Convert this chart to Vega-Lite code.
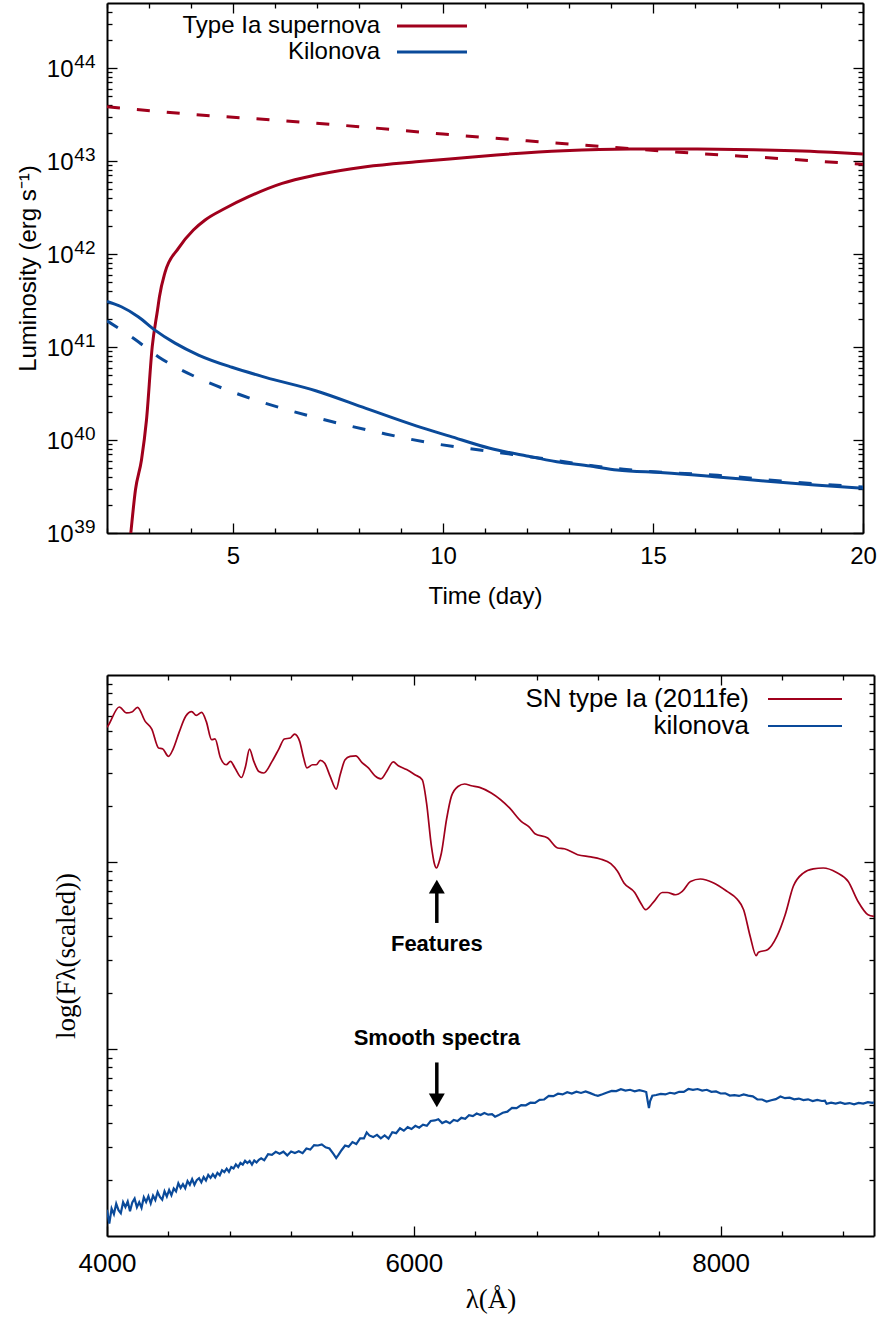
{
  "$schema": "https://vega.github.io/schema/vega-lite/v6.json",
  "background": "white",
  "padding": {"left": 16, "top": 1, "right": 5, "bottom": 5},
  "spacing": 142,
  "bounds": "flush",
  "resolve": {"scale": {"color": "independent", "strokeWidth": "independent", "shape": "independent"}, "legend": {"color": "independent"}},
  "datasets": {
    "lightcurves": [
      {"object": "Type Ia supernova", "curve": "light curve", "t": 2.5, "L": 5e38},
      {"object": "Type Ia supernova", "curve": "light curve", "t": 2.567, "L": 1.0e39},
      {"object": "Type Ia supernova", "curve": "light curve", "t": 2.677, "L": 2.9e39},
      {"object": "Type Ia supernova", "curve": "light curve", "t": 2.821, "L": 6.1e39},
      {"object": "Type Ia supernova", "curve": "light curve", "t": 2.94, "L": 1.64e40},
      {"object": "Type Ia supernova", "curve": "light curve", "t": 3.077, "L": 1.01e41},
      {"object": "Type Ia supernova", "curve": "light curve", "t": 3.203, "L": 2.5e41},
      {"object": "Type Ia supernova", "curve": "light curve", "t": 3.25, "L": 3.5e41},
      {"object": "Type Ia supernova", "curve": "light curve", "t": 3.38, "L": 6.3e41},
      {"object": "Type Ia supernova", "curve": "light curve", "t": 3.699, "L": 1.15e42},
      {"object": "Type Ia supernova", "curve": "light curve", "t": 4.057, "L": 1.81e42},
      {"object": "Type Ia supernova", "curve": "light curve", "t": 4.337, "L": 2.32e42},
      {"object": "Type Ia supernova", "curve": "light curve", "t": 4.816, "L": 3.1e42},
      {"object": "Type Ia supernova", "curve": "light curve", "t": 5.373, "L": 4.13e42},
      {"object": "Type Ia supernova", "curve": "light curve", "t": 6.17, "L": 5.75e42},
      {"object": "Type Ia supernova", "curve": "light curve", "t": 6.969, "L": 7.06e42},
      {"object": "Type Ia supernova", "curve": "light curve", "t": 8.165, "L": 8.69e42},
      {"object": "Type Ia supernova", "curve": "light curve", "t": 9.361, "L": 9.82e42},
      {"object": "Type Ia supernova", "curve": "light curve", "t": 10.158, "L": 1.052e43},
      {"object": "Type Ia supernova", "curve": "light curve", "t": 11.275, "L": 1.161e43},
      {"object": "Type Ia supernova", "curve": "light curve", "t": 12.87, "L": 1.291e43},
      {"object": "Type Ia supernova", "curve": "light curve", "t": 14.464, "L": 1.346e43},
      {"object": "Type Ia supernova", "curve": "light curve", "t": 16.06, "L": 1.346e43},
      {"object": "Type Ia supernova", "curve": "light curve", "t": 17.65, "L": 1.312e43},
      {"object": "Type Ia supernova", "curve": "light curve", "t": 19.25, "L": 1.242e43},
      {"object": "Type Ia supernova", "curve": "light curve", "t": 20, "L": 1.19e43},
      {"object": "Type Ia supernova", "curve": "heating rate", "t": 2, "L": 3.84e43},
      {"object": "Type Ia supernova", "curve": "heating rate", "t": 4, "L": 3.18e43},
      {"object": "Type Ia supernova", "curve": "heating rate", "t": 6, "L": 2.75e43},
      {"object": "Type Ia supernova", "curve": "heating rate", "t": 8, "L": 2.34e43},
      {"object": "Type Ia supernova", "curve": "heating rate", "t": 10, "L": 1.95e43},
      {"object": "Type Ia supernova", "curve": "heating rate", "t": 12, "L": 1.65e43},
      {"object": "Type Ia supernova", "curve": "heating rate", "t": 14, "L": 1.41e43},
      {"object": "Type Ia supernova", "curve": "heating rate", "t": 16, "L": 1.21e43},
      {"object": "Type Ia supernova", "curve": "heating rate", "t": 18, "L": 1.064e43},
      {"object": "Type Ia supernova", "curve": "heating rate", "t": 20, "L": 9.2e42},
      {"object": "Kilonova", "curve": "light curve", "t": 2, "L": 3.09e41},
      {"object": "Kilonova", "curve": "light curve", "t": 2.342, "L": 2.71e41},
      {"object": "Kilonova", "curve": "light curve", "t": 2.742, "L": 2.12e41},
      {"object": "Kilonova", "curve": "light curve", "t": 3.141, "L": 1.52e41},
      {"object": "Kilonova", "curve": "light curve", "t": 3.62, "L": 1.1e41},
      {"object": "Kilonova", "curve": "light curve", "t": 4.177, "L": 8.2e40},
      {"object": "Kilonova", "curve": "light curve", "t": 4.974, "L": 6.05e40},
      {"object": "Kilonova", "curve": "light curve", "t": 5.773, "L": 4.72e40},
      {"object": "Kilonova", "curve": "light curve", "t": 6.969, "L": 3.39e40},
      {"object": "Kilonova", "curve": "light curve", "t": 8.165, "L": 2.19e40},
      {"object": "Kilonova", "curve": "light curve", "t": 9.361, "L": 1.42e40},
      {"object": "Kilonova", "curve": "light curve", "t": 10.158, "L": 1.1e40},
      {"object": "Kilonova", "curve": "light curve", "t": 11.115, "L": 8.15e39},
      {"object": "Kilonova", "curve": "light curve", "t": 11.993, "L": 6.73e39},
      {"object": "Kilonova", "curve": "light curve", "t": 12.71, "L": 5.85e39},
      {"object": "Kilonova", "curve": "light curve", "t": 13.507, "L": 5.25e39},
      {"object": "Kilonova", "curve": "light curve", "t": 14.146, "L": 4.75e39},
      {"object": "Kilonova", "curve": "light curve", "t": 15.26, "L": 4.45e39},
      {"object": "Kilonova", "curve": "light curve", "t": 16.457, "L": 4.03e39},
      {"object": "Kilonova", "curve": "light curve", "t": 17.65, "L": 3.62e39},
      {"object": "Kilonova", "curve": "light curve", "t": 18.85, "L": 3.28e39},
      {"object": "Kilonova", "curve": "light curve", "t": 20, "L": 3.03e39},
      {"object": "Kilonova", "curve": "heating rate", "t": 2, "L": 1.91e41},
      {"object": "Kilonova", "curve": "heating rate", "t": 2.663, "L": 1.21e41},
      {"object": "Kilonova", "curve": "heating rate", "t": 3.22, "L": 7.87e40},
      {"object": "Kilonova", "curve": "heating rate", "t": 4.098, "L": 4.8e40},
      {"object": "Kilonova", "curve": "heating rate", "t": 4.974, "L": 3.3e40},
      {"object": "Kilonova", "curve": "heating rate", "t": 6.17, "L": 2.19e40},
      {"object": "Kilonova", "curve": "heating rate", "t": 7.366, "L": 1.57e40},
      {"object": "Kilonova", "curve": "heating rate", "t": 8.562, "L": 1.18e40},
      {"object": "Kilonova", "curve": "heating rate", "t": 9.758, "L": 9.2e39},
      {"object": "Kilonova", "curve": "heating rate", "t": 10.557, "L": 8.15e39},
      {"object": "Kilonova", "curve": "heating rate", "t": 11.354, "L": 7.29e39},
      {"object": "Kilonova", "curve": "heating rate", "t": 12.07, "L": 6.61e39},
      {"object": "Kilonova", "curve": "heating rate", "t": 13.507, "L": 5.33e39},
      {"object": "Kilonova", "curve": "heating rate", "t": 14.3, "L": 4.84e39},
      {"object": "Kilonova", "curve": "heating rate", "t": 15, "L": 4.56e39},
      {"object": "Kilonova", "curve": "heating rate", "t": 16.54, "L": 4.17e39},
      {"object": "Kilonova", "curve": "heating rate", "t": 18.05, "L": 3.62e39},
      {"object": "Kilonova", "curve": "heating rate", "t": 19.65, "L": 3.2e39},
      {"object": "Kilonova", "curve": "heating rate", "t": 20, "L": 3.13e39}
    ],
    "spectra": [
      {"series": "SN type Ia (2011fe)", "lambda": 4000, "logF": 1.72},
      {"series": "SN type Ia (2011fe)", "lambda": 4011, "logF": 1.734},
      {"series": "SN type Ia (2011fe)", "lambda": 4080, "logF": 1.829},
      {"series": "SN type Ia (2011fe)", "lambda": 4128, "logF": 1.797},
      {"series": "SN type Ia (2011fe)", "lambda": 4162, "logF": 1.802},
      {"series": "SN type Ia (2011fe)", "lambda": 4199, "logF": 1.827},
      {"series": "SN type Ia (2011fe)", "lambda": 4249, "logF": 1.752},
      {"series": "SN type Ia (2011fe)", "lambda": 4292, "logF": 1.711},
      {"series": "SN type Ia (2011fe)", "lambda": 4336, "logF": 1.61},
      {"series": "SN type Ia (2011fe)", "lambda": 4362, "logF": 1.606},
      {"series": "SN type Ia (2011fe)", "lambda": 4401, "logF": 1.565},
      {"series": "SN type Ia (2011fe)", "lambda": 4431, "logF": 1.604},
      {"series": "SN type Ia (2011fe)", "lambda": 4470, "logF": 1.693},
      {"series": "SN type Ia (2011fe)", "lambda": 4513, "logF": 1.779},
      {"series": "SN type Ia (2011fe)", "lambda": 4552, "logF": 1.804},
      {"series": "SN type Ia (2011fe)", "lambda": 4582, "logF": 1.784},
      {"series": "SN type Ia (2011fe)", "lambda": 4617, "logF": 1.8},
      {"series": "SN type Ia (2011fe)", "lambda": 4647, "logF": 1.752},
      {"series": "SN type Ia (2011fe)", "lambda": 4682, "logF": 1.654},
      {"series": "SN type Ia (2011fe)", "lambda": 4704, "logF": 1.658},
      {"series": "SN type Ia (2011fe)", "lambda": 4740, "logF": 1.556},
      {"series": "SN type Ia (2011fe)", "lambda": 4777, "logF": 1.52},
      {"series": "SN type Ia (2011fe)", "lambda": 4805, "logF": 1.538},
      {"series": "SN type Ia (2011fe)", "lambda": 4834, "logF": 1.503},
      {"series": "SN type Ia (2011fe)", "lambda": 4877, "logF": 1.452},
      {"series": "SN type Ia (2011fe)", "lambda": 4903, "logF": 1.511},
      {"series": "SN type Ia (2011fe)", "lambda": 4929, "logF": 1.604},
      {"series": "SN type Ia (2011fe)", "lambda": 4957, "logF": 1.538},
      {"series": "SN type Ia (2011fe)", "lambda": 4990, "logF": 1.484},
      {"series": "SN type Ia (2011fe)", "lambda": 5022, "logF": 1.476},
      {"series": "SN type Ia (2011fe)", "lambda": 5076, "logF": 1.538},
      {"series": "SN type Ia (2011fe)", "lambda": 5120, "logF": 1.604},
      {"series": "SN type Ia (2011fe)", "lambda": 5156, "logF": 1.658},
      {"series": "SN type Ia (2011fe)", "lambda": 5195, "logF": 1.663},
      {"series": "SN type Ia (2011fe)", "lambda": 5223, "logF": 1.684},
      {"series": "SN type Ia (2011fe)", "lambda": 5256, "logF": 1.645},
      {"series": "SN type Ia (2011fe)", "lambda": 5282, "logF": 1.556},
      {"series": "SN type Ia (2011fe)", "lambda": 5303, "logF": 1.503},
      {"series": "SN type Ia (2011fe)", "lambda": 5340, "logF": 1.52},
      {"series": "SN type Ia (2011fe)", "lambda": 5364, "logF": 1.52},
      {"series": "SN type Ia (2011fe)", "lambda": 5390, "logF": 1.543},
      {"series": "SN type Ia (2011fe)", "lambda": 5418, "logF": 1.529},
      {"series": "SN type Ia (2011fe)", "lambda": 5455, "logF": 1.458},
      {"series": "SN type Ia (2011fe)", "lambda": 5494, "logF": 1.39},
      {"series": "SN type Ia (2011fe)", "lambda": 5520, "logF": 1.467},
      {"series": "SN type Ia (2011fe)", "lambda": 5552, "logF": 1.547},
      {"series": "SN type Ia (2011fe)", "lambda": 5585, "logF": 1.565},
      {"series": "SN type Ia (2011fe)", "lambda": 5622, "logF": 1.568},
      {"series": "SN type Ia (2011fe)", "lambda": 5661, "logF": 1.533},
      {"series": "SN type Ia (2011fe)", "lambda": 5704, "logF": 1.503},
      {"series": "SN type Ia (2011fe)", "lambda": 5747, "logF": 1.461},
      {"series": "SN type Ia (2011fe)", "lambda": 5786, "logF": 1.445},
      {"series": "SN type Ia (2011fe)", "lambda": 5823, "logF": 1.484},
      {"series": "SN type Ia (2011fe)", "lambda": 5866, "logF": 1.535},
      {"series": "SN type Ia (2011fe)", "lambda": 5899, "logF": 1.515},
      {"series": "SN type Ia (2011fe)", "lambda": 5953, "logF": 1.494},
      {"series": "SN type Ia (2011fe)", "lambda": 6007, "logF": 1.467},
      {"series": "SN type Ia (2011fe)", "lambda": 6055, "logF": 1.44},
      {"series": "SN type Ia (2011fe)", "lambda": 6083, "logF": 1.316},
      {"series": "SN type Ia (2011fe)", "lambda": 6115, "logF": 1.083},
      {"series": "SN type Ia (2011fe)", "lambda": 6133, "logF": 0.995},
      {"series": "SN type Ia (2011fe)", "lambda": 6148, "logF": 0.968},
      {"series": "SN type Ia (2011fe)", "lambda": 6163, "logF": 0.995},
      {"series": "SN type Ia (2011fe)", "lambda": 6180, "logF": 1.048},
      {"series": "SN type Ia (2011fe)", "lambda": 6213, "logF": 1.226},
      {"series": "SN type Ia (2011fe)", "lambda": 6245, "logF": 1.351},
      {"series": "SN type Ia (2011fe)", "lambda": 6288, "logF": 1.404},
      {"series": "SN type Ia (2011fe)", "lambda": 6331, "logF": 1.417},
      {"series": "SN type Ia (2011fe)", "lambda": 6375, "logF": 1.408},
      {"series": "SN type Ia (2011fe)", "lambda": 6429, "logF": 1.399},
      {"series": "SN type Ia (2011fe)", "lambda": 6505, "logF": 1.369},
      {"series": "SN type Ia (2011fe)", "lambda": 6624, "logF": 1.289},
      {"series": "SN type Ia (2011fe)", "lambda": 6700, "logF": 1.217},
      {"series": "SN type Ia (2011fe)", "lambda": 6753, "logF": 1.187},
      {"series": "SN type Ia (2011fe)", "lambda": 6790, "logF": 1.151},
      {"series": "SN type Ia (2011fe)", "lambda": 6873, "logF": 1.128},
      {"series": "SN type Ia (2011fe)", "lambda": 6938, "logF": 1.075},
      {"series": "SN type Ia (2011fe)", "lambda": 6981, "logF": 1.071},
      {"series": "SN type Ia (2011fe)", "lambda": 7068, "logF": 1.039},
      {"series": "SN type Ia (2011fe)", "lambda": 7154, "logF": 1.027},
      {"series": "SN type Ia (2011fe)", "lambda": 7215, "logF": 1.016},
      {"series": "SN type Ia (2011fe)", "lambda": 7284, "logF": 0.991},
      {"series": "SN type Ia (2011fe)", "lambda": 7328, "logF": 0.95},
      {"series": "SN type Ia (2011fe)", "lambda": 7370, "logF": 0.888},
      {"series": "SN type Ia (2011fe)", "lambda": 7440, "logF": 0.837},
      {"series": "SN type Ia (2011fe)", "lambda": 7479, "logF": 0.781},
      {"series": "SN type Ia (2011fe)", "lambda": 7511, "logF": 0.745},
      {"series": "SN type Ia (2011fe)", "lambda": 7561, "logF": 0.784},
      {"series": "SN type Ia (2011fe)", "lambda": 7620, "logF": 0.837},
      {"series": "SN type Ia (2011fe)", "lambda": 7652, "logF": 0.837},
      {"series": "SN type Ia (2011fe)", "lambda": 7706, "logF": 0.825},
      {"series": "SN type Ia (2011fe)", "lambda": 7750, "logF": 0.843},
      {"series": "SN type Ia (2011fe)", "lambda": 7804, "logF": 0.896},
      {"series": "SN type Ia (2011fe)", "lambda": 7868, "logF": 0.909},
      {"series": "SN type Ia (2011fe)", "lambda": 7955, "logF": 0.888},
      {"series": "SN type Ia (2011fe)", "lambda": 8042, "logF": 0.843},
      {"series": "SN type Ia (2011fe)", "lambda": 8107, "logF": 0.802},
      {"series": "SN type Ia (2011fe)", "lambda": 8150, "logF": 0.745},
      {"series": "SN type Ia (2011fe)", "lambda": 8193, "logF": 0.602},
      {"series": "SN type Ia (2011fe)", "lambda": 8232, "logF": 0.499},
      {"series": "SN type Ia (2011fe)", "lambda": 8247, "logF": 0.517},
      {"series": "SN type Ia (2011fe)", "lambda": 8306, "logF": 0.531},
      {"series": "SN type Ia (2011fe)", "lambda": 8367, "logF": 0.602},
      {"series": "SN type Ia (2011fe)", "lambda": 8421, "logF": 0.718},
      {"series": "SN type Ia (2011fe)", "lambda": 8474, "logF": 0.87},
      {"series": "SN type Ia (2011fe)", "lambda": 8539, "logF": 0.941},
      {"series": "SN type Ia (2011fe)", "lambda": 8604, "logF": 0.963},
      {"series": "SN type Ia (2011fe)", "lambda": 8669, "logF": 0.968},
      {"series": "SN type Ia (2011fe)", "lambda": 8756, "logF": 0.944},
      {"series": "SN type Ia (2011fe)", "lambda": 8832, "logF": 0.896},
      {"series": "SN type Ia (2011fe)", "lambda": 8896, "logF": 0.789},
      {"series": "SN type Ia (2011fe)", "lambda": 8961, "logF": 0.718},
      {"series": "SN type Ia (2011fe)", "lambda": 9000, "logF": 0.709},
      {"series": "kilonova", "lambda": 4000, "logF": -0.86},
      {"series": "kilonova", "lambda": 4015, "logF": -0.934},
      {"series": "kilonova", "lambda": 4030, "logF": -0.853},
      {"series": "kilonova", "lambda": 4045, "logF": -0.883},
      {"series": "kilonova", "lambda": 4060, "logF": -0.827},
      {"series": "kilonova", "lambda": 4075, "logF": -0.862},
      {"series": "kilonova", "lambda": 4090, "logF": -0.878},
      {"series": "kilonova", "lambda": 4105, "logF": -0.819},
      {"series": "kilonova", "lambda": 4120, "logF": -0.845},
      {"series": "kilonova", "lambda": 4135, "logF": -0.816},
      {"series": "kilonova", "lambda": 4150, "logF": -0.867},
      {"series": "kilonova", "lambda": 4165, "logF": -0.82},
      {"series": "kilonova", "lambda": 4180, "logF": -0.8},
      {"series": "kilonova", "lambda": 4195, "logF": -0.846},
      {"series": "kilonova", "lambda": 4210, "logF": -0.819},
      {"series": "kilonova", "lambda": 4225, "logF": -0.849},
      {"series": "kilonova", "lambda": 4240, "logF": -0.793},
      {"series": "kilonova", "lambda": 4255, "logF": -0.818},
      {"series": "kilonova", "lambda": 4270, "logF": -0.787},
      {"series": "kilonova", "lambda": 4285, "logF": -0.825},
      {"series": "kilonova", "lambda": 4300, "logF": -0.784},
      {"series": "kilonova", "lambda": 4315, "logF": -0.808},
      {"series": "kilonova", "lambda": 4330, "logF": -0.765},
      {"series": "kilonova", "lambda": 4345, "logF": -0.791},
      {"series": "kilonova", "lambda": 4360, "logF": -0.806},
      {"series": "kilonova", "lambda": 4375, "logF": -0.761},
      {"series": "kilonova", "lambda": 4390, "logF": -0.789},
      {"series": "kilonova", "lambda": 4405, "logF": -0.754},
      {"series": "kilonova", "lambda": 4420, "logF": -0.782},
      {"series": "kilonova", "lambda": 4435, "logF": -0.746},
      {"series": "kilonova", "lambda": 4450, "logF": -0.761},
      {"series": "kilonova", "lambda": 4465, "logF": -0.718},
      {"series": "kilonova", "lambda": 4480, "logF": -0.743},
      {"series": "kilonova", "lambda": 4495, "logF": -0.723},
      {"series": "kilonova", "lambda": 4510, "logF": -0.745},
      {"series": "kilonova", "lambda": 4525, "logF": -0.706},
      {"series": "kilonova", "lambda": 4540, "logF": -0.726},
      {"series": "kilonova", "lambda": 4555, "logF": -0.696},
      {"series": "kilonova", "lambda": 4570, "logF": -0.726},
      {"series": "kilonova", "lambda": 4585, "logF": -0.701},
      {"series": "kilonova", "lambda": 4600, "logF": -0.691},
      {"series": "kilonova", "lambda": 4615, "logF": -0.713},
      {"series": "kilonova", "lambda": 4630, "logF": -0.685},
      {"series": "kilonova", "lambda": 4645, "logF": -0.703},
      {"series": "kilonova", "lambda": 4660, "logF": -0.673},
      {"series": "kilonova", "lambda": 4675, "logF": -0.689},
      {"series": "kilonova", "lambda": 4690, "logF": -0.67},
      {"series": "kilonova", "lambda": 4705, "logF": -0.687},
      {"series": "kilonova", "lambda": 4720, "logF": -0.662},
      {"series": "kilonova", "lambda": 4735, "logF": -0.675},
      {"series": "kilonova", "lambda": 4750, "logF": -0.648},
      {"series": "kilonova", "lambda": 4765, "logF": -0.658},
      {"series": "kilonova", "lambda": 4780, "logF": -0.64},
      {"series": "kilonova", "lambda": 4795, "logF": -0.657},
      {"series": "kilonova", "lambda": 4810, "logF": -0.631},
      {"series": "kilonova", "lambda": 4825, "logF": -0.639},
      {"series": "kilonova", "lambda": 4840, "logF": -0.617},
      {"series": "kilonova", "lambda": 4855, "logF": -0.631},
      {"series": "kilonova", "lambda": 4870, "logF": -0.609},
      {"series": "kilonova", "lambda": 4885, "logF": -0.618},
      {"series": "kilonova", "lambda": 4900, "logF": -0.598},
      {"series": "kilonova", "lambda": 4915, "logF": -0.61},
      {"series": "kilonova", "lambda": 4930, "logF": -0.599},
      {"series": "kilonova", "lambda": 4945, "logF": -0.618},
      {"series": "kilonova", "lambda": 4960, "logF": -0.596},
      {"series": "kilonova", "lambda": 4975, "logF": -0.607},
      {"series": "kilonova", "lambda": 4990, "logF": -0.593},
      {"series": "kilonova", "lambda": 5005, "logF": -0.585},
      {"series": "kilonova", "lambda": 5025, "logF": -0.595},
      {"series": "kilonova", "lambda": 5050, "logF": -0.563},
      {"series": "kilonova", "lambda": 5075, "logF": -0.566},
      {"series": "kilonova", "lambda": 5100, "logF": -0.55},
      {"series": "kilonova", "lambda": 5125, "logF": -0.56},
      {"series": "kilonova", "lambda": 5150, "logF": -0.549},
      {"series": "kilonova", "lambda": 5175, "logF": -0.569},
      {"series": "kilonova", "lambda": 5200, "logF": -0.548},
      {"series": "kilonova", "lambda": 5225, "logF": -0.556},
      {"series": "kilonova", "lambda": 5250, "logF": -0.547},
      {"series": "kilonova", "lambda": 5275, "logF": -0.557},
      {"series": "kilonova", "lambda": 5300, "logF": -0.532},
      {"series": "kilonova", "lambda": 5325, "logF": -0.538},
      {"series": "kilonova", "lambda": 5350, "logF": -0.514},
      {"series": "kilonova", "lambda": 5375, "logF": -0.516},
      {"series": "kilonova", "lambda": 5400, "logF": -0.51},
      {"series": "kilonova", "lambda": 5425, "logF": -0.526},
      {"series": "kilonova", "lambda": 5450, "logF": -0.532},
      {"series": "kilonova", "lambda": 5475, "logF": -0.56},
      {"series": "kilonova", "lambda": 5494, "logF": -0.583},
      {"series": "kilonova", "lambda": 5510, "logF": -0.565},
      {"series": "kilonova", "lambda": 5530, "logF": -0.54},
      {"series": "kilonova", "lambda": 5552, "logF": -0.516},
      {"series": "kilonova", "lambda": 5575, "logF": -0.522},
      {"series": "kilonova", "lambda": 5600, "logF": -0.498},
      {"series": "kilonova", "lambda": 5625, "logF": -0.508},
      {"series": "kilonova", "lambda": 5650, "logF": -0.478},
      {"series": "kilonova", "lambda": 5675, "logF": -0.478},
      {"series": "kilonova", "lambda": 5693, "logF": -0.446},
      {"series": "kilonova", "lambda": 5710, "logF": -0.462},
      {"series": "kilonova", "lambda": 5735, "logF": -0.471},
      {"series": "kilonova", "lambda": 5760, "logF": -0.459},
      {"series": "kilonova", "lambda": 5785, "logF": -0.478},
      {"series": "kilonova", "lambda": 5810, "logF": -0.462},
      {"series": "kilonova", "lambda": 5835, "logF": -0.479},
      {"series": "kilonova", "lambda": 5860, "logF": -0.445},
      {"series": "kilonova", "lambda": 5885, "logF": -0.45},
      {"series": "kilonova", "lambda": 5910, "logF": -0.424},
      {"series": "kilonova", "lambda": 5935, "logF": -0.437},
      {"series": "kilonova", "lambda": 5960, "logF": -0.418},
      {"series": "kilonova", "lambda": 5985, "logF": -0.428},
      {"series": "kilonova", "lambda": 6010, "logF": -0.411},
      {"series": "kilonova", "lambda": 6035, "logF": -0.421},
      {"series": "kilonova", "lambda": 6060, "logF": -0.405},
      {"series": "kilonova", "lambda": 6085, "logF": -0.411},
      {"series": "kilonova", "lambda": 6110, "logF": -0.385},
      {"series": "kilonova", "lambda": 6137, "logF": -0.382},
      {"series": "kilonova", "lambda": 6160, "logF": -0.376},
      {"series": "kilonova", "lambda": 6185, "logF": -0.396},
      {"series": "kilonova", "lambda": 6210, "logF": -0.386},
      {"series": "kilonova", "lambda": 6235, "logF": -0.397},
      {"series": "kilonova", "lambda": 6260, "logF": -0.379},
      {"series": "kilonova", "lambda": 6285, "logF": -0.385},
      {"series": "kilonova", "lambda": 6310, "logF": -0.368},
      {"series": "kilonova", "lambda": 6335, "logF": -0.373},
      {"series": "kilonova", "lambda": 6360, "logF": -0.354},
      {"series": "kilonova", "lambda": 6385, "logF": -0.359},
      {"series": "kilonova", "lambda": 6410, "logF": -0.345},
      {"series": "kilonova", "lambda": 6435, "logF": -0.353},
      {"series": "kilonova", "lambda": 6460, "logF": -0.342},
      {"series": "kilonova", "lambda": 6485, "logF": -0.351},
      {"series": "kilonova", "lambda": 6510, "logF": -0.348},
      {"series": "kilonova", "lambda": 6530, "logF": -0.362},
      {"series": "kilonova", "lambda": 6550, "logF": -0.355},
      {"series": "kilonova", "lambda": 6580, "logF": -0.341},
      {"series": "kilonova", "lambda": 6610, "logF": -0.335},
      {"series": "kilonova", "lambda": 6640, "logF": -0.315},
      {"series": "kilonova", "lambda": 6670, "logF": -0.316},
      {"series": "kilonova", "lambda": 6700, "logF": -0.3},
      {"series": "kilonova", "lambda": 6730, "logF": -0.301},
      {"series": "kilonova", "lambda": 6760, "logF": -0.287},
      {"series": "kilonova", "lambda": 6790, "logF": -0.288},
      {"series": "kilonova", "lambda": 6820, "logF": -0.272},
      {"series": "kilonova", "lambda": 6850, "logF": -0.27},
      {"series": "kilonova", "lambda": 6880, "logF": -0.251},
      {"series": "kilonova", "lambda": 6910, "logF": -0.252},
      {"series": "kilonova", "lambda": 6940, "logF": -0.239},
      {"series": "kilonova", "lambda": 6970, "logF": -0.243},
      {"series": "kilonova", "lambda": 7000, "logF": -0.231},
      {"series": "kilonova", "lambda": 7030, "logF": -0.238},
      {"series": "kilonova", "lambda": 7060, "logF": -0.228},
      {"series": "kilonova", "lambda": 7090, "logF": -0.235},
      {"series": "kilonova", "lambda": 7120, "logF": -0.227},
      {"series": "kilonova", "lambda": 7150, "logF": -0.236},
      {"series": "kilonova", "lambda": 7180, "logF": -0.246},
      {"series": "kilonova", "lambda": 7200, "logF": -0.25},
      {"series": "kilonova", "lambda": 7230, "logF": -0.242},
      {"series": "kilonova", "lambda": 7260, "logF": -0.233},
      {"series": "kilonova", "lambda": 7290, "logF": -0.224},
      {"series": "kilonova", "lambda": 7320, "logF": -0.225},
      {"series": "kilonova", "lambda": 7350, "logF": -0.215},
      {"series": "kilonova", "lambda": 7380, "logF": -0.222},
      {"series": "kilonova", "lambda": 7410, "logF": -0.218},
      {"series": "kilonova", "lambda": 7440, "logF": -0.226},
      {"series": "kilonova", "lambda": 7470, "logF": -0.22},
      {"series": "kilonova", "lambda": 7500, "logF": -0.226},
      {"series": "kilonova", "lambda": 7515, "logF": -0.23},
      {"series": "kilonova", "lambda": 7525, "logF": -0.28},
      {"series": "kilonova", "lambda": 7533, "logF": -0.316},
      {"series": "kilonova", "lambda": 7540, "logF": -0.28},
      {"series": "kilonova", "lambda": 7555, "logF": -0.25},
      {"series": "kilonova", "lambda": 7580, "logF": -0.246},
      {"series": "kilonova", "lambda": 7610, "logF": -0.24},
      {"series": "kilonova", "lambda": 7640, "logF": -0.243},
      {"series": "kilonova", "lambda": 7670, "logF": -0.234},
      {"series": "kilonova", "lambda": 7700, "logF": -0.238},
      {"series": "kilonova", "lambda": 7730, "logF": -0.229},
      {"series": "kilonova", "lambda": 7760, "logF": -0.229},
      {"series": "kilonova", "lambda": 7790, "logF": -0.214},
      {"series": "kilonova", "lambda": 7820, "logF": -0.218},
      {"series": "kilonova", "lambda": 7850, "logF": -0.214},
      {"series": "kilonova", "lambda": 7880, "logF": -0.222},
      {"series": "kilonova", "lambda": 7910, "logF": -0.218},
      {"series": "kilonova", "lambda": 7940, "logF": -0.229},
      {"series": "kilonova", "lambda": 7970, "logF": -0.227},
      {"series": "kilonova", "lambda": 8000, "logF": -0.238},
      {"series": "kilonova", "lambda": 8030, "logF": -0.237},
      {"series": "kilonova", "lambda": 8060, "logF": -0.249},
      {"series": "kilonova", "lambda": 8090, "logF": -0.247},
      {"series": "kilonova", "lambda": 8120, "logF": -0.251},
      {"series": "kilonova", "lambda": 8150, "logF": -0.243},
      {"series": "kilonova", "lambda": 8180, "logF": -0.249},
      {"series": "kilonova", "lambda": 8210, "logF": -0.253},
      {"series": "kilonova", "lambda": 8240, "logF": -0.269},
      {"series": "kilonova", "lambda": 8270, "logF": -0.27},
      {"series": "kilonova", "lambda": 8300, "logF": -0.281},
      {"series": "kilonova", "lambda": 8330, "logF": -0.274},
      {"series": "kilonova", "lambda": 8360, "logF": -0.268},
      {"series": "kilonova", "lambda": 8390, "logF": -0.254},
      {"series": "kilonova", "lambda": 8420, "logF": -0.263},
      {"series": "kilonova", "lambda": 8450, "logF": -0.26},
      {"series": "kilonova", "lambda": 8480, "logF": -0.269},
      {"series": "kilonova", "lambda": 8510, "logF": -0.265},
      {"series": "kilonova", "lambda": 8540, "logF": -0.273},
      {"series": "kilonova", "lambda": 8570, "logF": -0.269},
      {"series": "kilonova", "lambda": 8600, "logF": -0.278},
      {"series": "kilonova", "lambda": 8630, "logF": -0.272},
      {"series": "kilonova", "lambda": 8660, "logF": -0.278},
      {"series": "kilonova", "lambda": 8680, "logF": -0.276},
      {"series": "kilonova", "lambda": 8691, "logF": -0.293},
      {"series": "kilonova", "lambda": 8720, "logF": -0.287},
      {"series": "kilonova", "lambda": 8750, "logF": -0.292},
      {"series": "kilonova", "lambda": 8780, "logF": -0.286},
      {"series": "kilonova", "lambda": 8810, "logF": -0.293},
      {"series": "kilonova", "lambda": 8840, "logF": -0.289},
      {"series": "kilonova", "lambda": 8870, "logF": -0.296},
      {"series": "kilonova", "lambda": 8900, "logF": -0.288},
      {"series": "kilonova", "lambda": 8930, "logF": -0.292},
      {"series": "kilonova", "lambda": 8960, "logF": -0.284},
      {"series": "kilonova", "lambda": 8990, "logF": -0.288},
      {"series": "kilonova", "lambda": 9000, "logF": -0.285}
    ],
    "arrows": [
      {"lambda": 6150, "from": 0.674, "to": 0.868, "direction": "up"},
      {"lambda": 6150, "from": -0.072, "to": -0.275, "direction": "down"}
    ],
    "notes": [
      {"note": "Features", "lambda": 6150, "logF": 0.56},
      {"note": "Smooth spectra", "lambda": 6150, "logF": 0.06}
    ]
  },
  "vconcat": [
    {
      "width": 756,
      "height": 530,
      "data": {"name": "lightcurves"},
      "layer": [
        {
          "transform": [{"filter": "datum.curve === 'light curve' && datum.object === 'Type Ia supernova'"}],
          "mark": {"type": "line", "strokeWidth": 3, "clip": true, "interpolate": "monotone"},
          "encoding": {
            "x": {"field": "t", "type": "quantitative", "scale": {"domain": [2, 20], "nice": false, "zero": false},
              "axis": {"orient": "bottom", "title": "Time (day)", "titleFontSize": 24, "titlePadding": 11,
                "values": [2,3,4,5,6,7,8,9,10,11,12,13,14,15,16,17,18,19,20],
                "tickSize": {"condition": {"test": "datum.value % 5 === 0", "value": -10}, "value": -5},
                "labelExpr": "datum.value % 5 === 0 ? '' + datum.value : ''",
                "labelFontSize": 24, "labelPadding": 21}},
            "y": {"field": "L", "type": "quantitative", "scale": {"type": "log", "domain": [1e39, 5e44], "nice": false},
              "axis": {"orient": "left", "title": "Luminosity (erg s⁻¹)", "titleFontSize": 24, "titlePadding": 6,
                "values": [1e39,2e39,3e39,4e39,5e39,6e39,7e39,8e39,9e39,1e40,2e40,3e40,4e40,5e40,6e40,7e40,8e40,9e40,1e41,2e41,3e41,4e41,5e41,6e41,7e41,8e41,9e41,1e42,2e42,3e42,4e42,5e42,6e42,7e42,8e42,9e42,1e43,2e43,3e43,4e43,5e43,6e43,7e43,8e43,9e43,1e44,2e44,3e44,4e44],
                "tickSize": {"condition": {"test": "datum.value == 1e39 || datum.value == 1e40 || datum.value == 1e41 || datum.value == 1e42 || datum.value == 1e43 || datum.value == 1e44", "value": -10}, "value": -5},
                "labelExpr": "(datum.value == 1e39 || datum.value == 1e40 || datum.value == 1e41 || datum.value == 1e42 || datum.value == 1e43 || datum.value == 1e44) ? '10' : ''",
                "labelFontSize": 24, "labelPadding": 44, "labelOffset": 1}},
            "color": {"field": "object", "type": "nominal",
              "scale": {"domain": ["Type Ia supernova", "Kilonova"], "range": ["#a0001c", "#0a4a9a"]},
              "legend": {"orient": "none", "legendX": 290, "legendY": 11, "title": null, "direction": "vertical",
                "symbolType": "M-3.5,0H3.5", "symbolSize": 400, "symbolStrokeWidth": 3, "symbolOpacity": 1, "symbolOffset": 23, "symbolDash": [1, 0],
                "labelAlign": "right", "labelOffset": -64, "labelFont": "Liberation Sans", "labelFontSize": 24,
                "labelColor": "black", "labelLimit": 500, "rowPadding": 2, "padding": 0}}
          }
        },
        {
          "transform": [{"filter": "datum.curve === 'light curve' && datum.object === 'Kilonova'"}],
          "mark": {"type": "line", "strokeWidth": 3, "clip": true, "interpolate": "monotone"},
          "encoding": {
            "x": {"field": "t", "type": "quantitative", "scale": {"domain": [2, 20], "nice": false, "zero": false}, "axis": null},
            "y": {"field": "L", "type": "quantitative", "scale": {"type": "log", "domain": [1e39, 5e44], "nice": false},
              "axis": {"orient": "left", "title": null, "ticks": false, "domain": false,
                "values": [1e39,1e40,1e41,1e42,1e43,1e44],
                "labelExpr": "'' + round(log(datum.value) / LN10)",
                "labelFontSize": 19, "labelPadding": 12, "labelOffset": -7, "labelAlign": "right"}},
            "color": {"field": "object", "type": "nominal",
              "scale": {"domain": ["Type Ia supernova", "Kilonova"], "range": ["#a0001c", "#0a4a9a"]}}
          }
        },
        {
          "transform": [{"filter": "datum.curve === 'heating rate'"}],
          "mark": {"type": "line", "strokeWidth": 3, "strokeDash": [13, 17], "clip": true, "interpolate": "monotone"},
          "encoding": {
            "x": {"field": "t", "type": "quantitative", "scale": {"domain": [2, 20], "nice": false, "zero": false},
              "axis": {"orient": "top", "title": null, "labels": false,
                "values": [2,3,4,5,6,7,8,9,10,11,12,13,14,15,16,17,18,19,20],
                "tickSize": {"condition": {"test": "datum.value % 5 === 0", "value": -10}, "value": -5}}},
            "y": {"field": "L", "type": "quantitative", "scale": {"type": "log", "domain": [1e39, 5e44], "nice": false},
              "axis": {"orient": "right", "title": null, "labels": false,
                "values": [1e39,2e39,3e39,4e39,5e39,6e39,7e39,8e39,9e39,1e40,2e40,3e40,4e40,5e40,6e40,7e40,8e40,9e40,1e41,2e41,3e41,4e41,5e41,6e41,7e41,8e41,9e41,1e42,2e42,3e42,4e42,5e42,6e42,7e42,8e42,9e42,1e43,2e43,3e43,4e43,5e43,6e43,7e43,8e43,9e43,1e44,2e44,3e44,4e44],
                "tickSize": {"condition": {"test": "datum.value == 1e39 || datum.value == 1e40 || datum.value == 1e41 || datum.value == 1e42 || datum.value == 1e43 || datum.value == 1e44", "value": -10}, "value": -5}}},
            "color": {"field": "object", "type": "nominal",
              "scale": {"domain": ["Type Ia supernova", "Kilonova"], "range": ["#a0001c", "#0a4a9a"]}}
          }
        }
      ],
      "resolve": {"axis": {"x": "independent", "y": "independent"}}
    },
    {
      "width": 767,
      "height": 561,
      "layer": [
        {
          "data": {"name": "spectra"},
          "transform": [{"filter": "datum.series === 'SN type Ia (2011fe)'"}],
          "mark": {"type": "line", "clip": true, "strokeWidth": 1.7, "interpolate": "monotone"},
          "encoding": {
            "x": {"field": "lambda", "type": "quantitative", "scale": {"domain": [4000, 9000], "nice": false, "zero": false},
              "axis": {"orient": "bottom", "title": "λ(Å)", "titleFont": "Liberation Serif", "titleFontSize": 27, "titlePadding": 5,
                "values": [4000,4400,4800,5200,5600,6000,6400,6800,7200,7600,8000,8400,8800],
                "tickSize": {"condition": {"test": "datum.value % 2000 === 0", "value": -10}, "value": -5},
                "labelExpr": "datum.value % 2000 === 0 ? '' + datum.value : ''",
                "labelFontSize": 26, "labelPadding": 24}},
            "y": {"field": "logF", "type": "quantitative", "scale": {"domain": [-1, 2], "nice": false, "zero": false},
              "axis": {"orient": "left", "title": "log(Fλ(scaled))", "titleFont": "Liberation Serif", "titleFontSize": 27, "titlePadding": 26, "labels": false,
                "values": [-0.69897,-0.52288,-0.39794,-0.30103,-0.2218,-0.1549,-0.09691,-0.04576,0,0.30103,0.47712,0.60206,0.69897,0.77815,0.8451,0.90309,0.95424,1,1.30103,1.47712,1.60206,1.69897,1.77815,1.8451,1.90309,1.95424],
                "tickSize": {"condition": {"test": "datum.value === 0 || datum.value === 1", "value": -10}, "value": -5}}},
            "color": {"field": "series", "type": "nominal",
              "scale": {"domain": ["SN type Ia (2011fe)", "kilonova"], "range": ["#a0001c", "#0a4a9a"]},
              "legend": {"orient": "none", "legendX": 661, "legendY": 11, "title": null, "direction": "vertical",
                "symbolType": "M-3.7,0H3.7", "symbolSize": 400, "symbolStrokeWidth": 1.8, "symbolOpacity": 1, "symbolOffset": 24, "symbolDash": [1, 0],
                "labelAlign": "right", "labelOffset": -69, "labelFont": "Liberation Sans", "labelFontSize": 26,
                "labelColor": "black", "labelLimit": 500, "rowPadding": 1, "padding": 0}}
          }
        },
        {
          "data": {"name": "spectra"},
          "transform": [{"filter": "datum.series === 'kilonova'"}],
          "mark": {"type": "line", "clip": true, "strokeWidth": 2.2},
          "encoding": {
            "x": {"field": "lambda", "type": "quantitative", "scale": {"domain": [4000, 9000], "nice": false, "zero": false}, "axis": null},
            "y": {"field": "logF", "type": "quantitative", "scale": {"domain": [-1, 2], "nice": false, "zero": false}, "axis": null},
            "color": {"field": "series", "type": "nominal",
              "scale": {"domain": ["SN type Ia (2011fe)", "kilonova"], "range": ["#a0001c", "#0a4a9a"]}}
          }
        },
        {
          "data": {"name": "arrows"},
          "mark": {"type": "rule", "strokeWidth": 3.5, "color": "black"},
          "encoding": {
            "x": {"field": "lambda", "type": "quantitative", "scale": {"domain": [4000, 9000], "nice": false, "zero": false},
              "axis": {"orient": "top", "title": null, "labels": false,
                "values": [4000,4400,4800,5200,5600,6000,6400,6800,7200,7600,8000,8400,8800],
                "tickSize": {"condition": {"test": "datum.value % 2000 === 0", "value": -10}, "value": -5}}},
            "y": {"field": "from", "type": "quantitative", "scale": {"domain": [-1, 2], "nice": false, "zero": false},
              "axis": {"orient": "right", "title": null, "labels": false,
                "values": [-0.69897,-0.52288,-0.39794,-0.30103,-0.2218,-0.1549,-0.09691,-0.04576,0,0.30103,0.47712,0.60206,0.69897,0.77815,0.8451,0.90309,0.95424,1,1.30103,1.47712,1.60206,1.69897,1.77815,1.8451,1.90309,1.95424],
                "tickSize": {"condition": {"test": "datum.value === 0 || datum.value === 1", "value": -10}, "value": -5}}},
            "y2": {"field": "to"}
          }
        },
        {
          "data": {"name": "arrows"},
          "mark": {"type": "point", "filled": true, "color": "black", "opacity": 1, "size": 256},
          "encoding": {
            "x": {"field": "lambda", "type": "quantitative", "scale": {"domain": [4000, 9000], "nice": false, "zero": false}, "axis": null},
            "y": {"field": "to", "type": "quantitative", "scale": {"domain": [-1, 2], "nice": false, "zero": false}, "axis": null},
            "shape": {"field": "direction", "type": "nominal", "scale": {"domain": ["up", "down"], "range": ["triangle-up", "triangle-down"]}, "legend": null}
          }
        },
        {
          "data": {"name": "notes"},
          "mark": {"type": "text", "font": "Liberation Sans", "fontWeight": "bold", "fontSize": 22, "color": "black", "baseline": "middle", "align": "center"},
          "encoding": {
            "x": {"field": "lambda", "type": "quantitative", "scale": {"domain": [4000, 9000], "nice": false, "zero": false}, "axis": null},
            "y": {"field": "logF", "type": "quantitative", "scale": {"domain": [-1, 2], "nice": false, "zero": false}, "axis": null},
            "text": {"field": "note"}
          }
        }
      ],
      "resolve": {"axis": {"x": "independent", "y": "independent"}}
    }
  ],
  "config": {
    "view": {"stroke": null},
    "font": "Liberation Sans",
    "axis": {"grid": false, "domainColor": "black", "domainWidth": 2, "tickColor": "black", "tickWidth": 1.3,
      "labelColor": "black", "titleColor": "black", "labelFont": "Liberation Sans", "titleFont": "Liberation Sans",
      "titleFontWeight": "normal", "labelFlush": false, "labelOverlap": false, "zindex": 1}
  }
}
